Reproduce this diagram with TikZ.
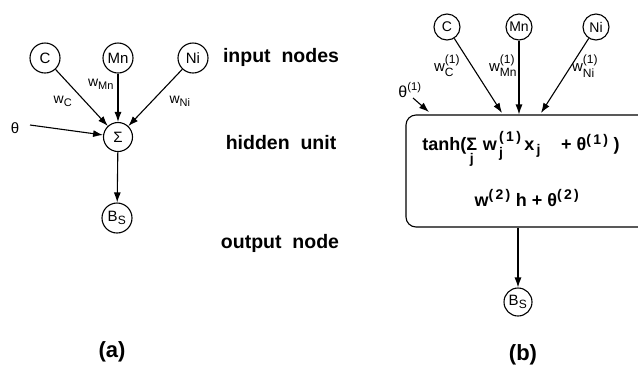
\documentclass[tikz,border=0pt]{standalone}
\usepackage{fontspec}
\usepackage{amsmath}
\setmainfont{Liberation Sans}
\DeclareMathSizes{14}{14}{11}{9}
\DeclareMathSizes{15}{15}{12}{9}
\DeclareMathSizes{18}{18}{14}{10}
\usetikzlibrary{arrows.meta}
\begin{document}
\begin{tikzpicture}[x=1pt,y=-1pt,
  unit/.style={circle,draw,line width=1.1pt,inner sep=0pt,minimum size=30pt,font=\fontsize{15}{15}\selectfont},
  unitb/.style={unit,minimum size=26pt,font=\fontsize{14}{14}\selectfont},
  conn/.style={line width=1.1pt,-{Latex[length=10pt,width=7pt]}},
  lab/.style={font=\fontsize{14}{14}\selectfont,inner sep=0pt},
  labb/.style={font=\fontsize{15}{15}\selectfont,inner sep=0pt},
  rowlab/.style={font=\fontsize{19.5}{19.5}\bfseries\selectfont,inner sep=0pt},
  formula/.style={font=\fontsize{18}{18}\bfseries\selectfont,inner sep=0pt},
  panel/.style={font=\fontsize{22}{22}\bfseries\selectfont,inner sep=0pt}]
\useasboundingbox (0,0) rectangle (638,368);
\clip (0,0) rectangle (638,368);
% ---------- panel (a)
\node[unit] (Ca) at (45,58) {C};
\node[unit] (Mna) at (118,58) {Mn};
\node[unit] (Nia) at (193,58) {Ni};
\node[unit,minimum size=29pt] (S) at (118,137) {Σ};
\node[unit] (Bsa) at (117,218) {B\textsubscript{S}};
\node[lab,font=\fontsize{15}{15}\selectfont] (tha) at (15,128) {θ};
\coordinate (tha0) at (30,125);
\draw[conn] (Ca) -- (S);
\draw[conn] (Mna) -- (S);
\draw[conn] (Nia) -- (S);
\draw[conn] (tha0) -- (S);
\draw[conn] (S) -- (Bsa);
\node[lab] (wC) at (63,101) {w$_{\text{C}}$};
\node[lab] (wMn) at (101,84) {w$_{\text{Mn}}$};
\node[lab] (wNi) at (180,101) {w$_{\text{Ni}}$};
% ---------- row labels
\node[rowlab] (r1) at (281,57) {input\ \ nodes};
\node[rowlab] (r2) at (281,143) {hidden\ \ unit};
\node[rowlab] (r3) at (280,243) {output\ \ node};
\node[panel] (pa) at (112,352) {(a)};
\node[panel] (pb) at (523,355) {(b)};
% ---------- panel (b)
\node[unitb] (Cb) at (447,27) {C};
\node[unitb] (Mnb) at (519,27) {Mn};
\node[unitb] (Nib) at (596,27) {Ni};
\node[draw,line width=1.1pt,rounded corners=10pt,minimum width=254pt,minimum height=112pt,inner sep=0pt] (box) at (533,171) {};
\node[unit,minimum size=28pt] (Bsb) at (518,302) {B\textsubscript{S}};
\coordinate (tC) at (502,113);
\coordinate (tNi) at (541,113);
\coordinate (th0) at (413,98);
\coordinate (th1) at (429,112);
\draw[conn] (Cb) -- (tC);
\draw[conn] (Mnb) -- (Mnb |- box.north);
\draw[conn] (Nib) -- (tNi);
\draw[conn] (th0) -- (th1);
\draw[conn] (box.south -| Bsb) -- (Bsb);
\node[labb] (wCb) at (447,66) {w$^{\text{(1)}}_{\text{C}}$};
\node[labb] (wMnb) at (503,66) {w$^{\text{(1)}}_{\text{Mn}}$};
\node[labb] (wNib) at (585,66) {w$^{\text{(1)}}_{\text{Ni}}$};
\node[labb,font=\fontsize{16}{16}\selectfont] (thb) at (410,90) {θ$^{\text{(1)}}$};
\node[formula] (f1) at (521,150) {tanh($\mathop{\text{Σ}}\limits_{\text{j}}\,\text{w}^{\text{\,(\,1\,)}}_{\text{\,j}}\,\text{x}_{\text{\,j}}$\ \ \ \ + θ$^{\text{(\,1\,)}}$\ )};
\node[formula] (f2) at (527,198) {w$^{\text{(\,2\,)}}$\ h + θ$^{\text{(\,2\,)}}$};
\end{tikzpicture}
\end{document}
